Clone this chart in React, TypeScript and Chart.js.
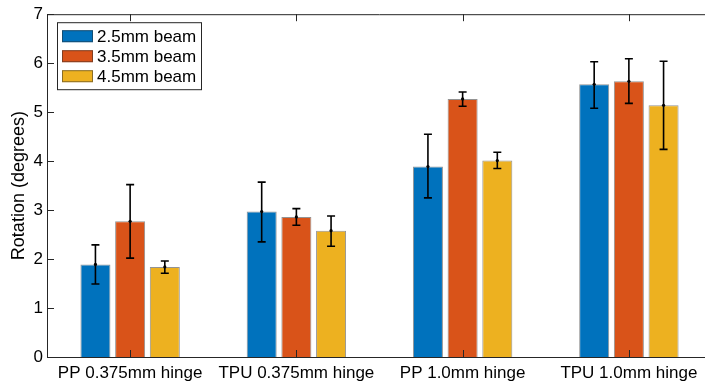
import React, { useEffect, useRef } from "react";
import { Chart, registerables } from "chart.js";

Chart.register(...registerables);

const categories = ["PP 0.375mm hinge", "TPU 0.375mm hinge", "PP 1.0mm hinge", "TPU 1.0mm hinge"];
const seriesLabels = ["2.5mm beam", "3.5mm beam", "4.5mm beam"];
const beam25 = [1.89, 2.97, 3.89, 5.57];
const beam35 = [2.77, 2.86, 5.27, 5.63];
const beam45 = [1.84, 2.58, 4.01, 5.14];
const beam25Low = [1.49, 2.35, 3.25, 5.08];
const beam25High = [2.29, 3.57, 4.55, 6.03];
const beam35Low = [2.02, 2.69, 5.12, 5.18];
const beam35High = [3.52, 3.03, 5.41, 6.09];
const beam45Low = [1.71, 2.26, 3.85, 4.24];
const beam45High = [1.96, 2.88, 4.18, 6.04];
const yTicks = [0, 1, 2, 3, 4, 5, 6, 7];

const colors = ["#0072BD", "#D95319", "#EDB120"];
const AXIS = "#262626";
const FONT = "'Liberation Sans', Arial, Helvetica, sans-serif";

const lows = [beam25Low, beam35Low, beam45Low];
const highs = [beam25High, beam35High, beam45High];

const decorPlugin = {
  id: "decor",
  afterDatasetsDraw(chart: any) {
    const ctx = chart.ctx;
    const y = chart.scales.y;
    ctx.save();
    ctx.strokeStyle = "#000";
    ctx.fillStyle = "#000";
    ctx.lineWidth = 1.6;
    chart.data.datasets.forEach((ds: any, di: number) => {
      const meta = chart.getDatasetMeta(di);
      meta.data.forEach((el: any, i: number) => {
        const x = el.x;
        const yl = y.getPixelForValue(lows[di][i]);
        const yh = y.getPixelForValue(highs[di][i]);
        const ym = y.getPixelForValue(ds.data[i]);
        ctx.beginPath();
        ctx.moveTo(x, yl);
        ctx.lineTo(x, yh);
        ctx.moveTo(x - 4, yl);
        ctx.lineTo(x + 4, yl);
        ctx.moveTo(x - 4, yh);
        ctx.lineTo(x + 4, yh);
        ctx.stroke();
        ctx.beginPath();
        ctx.arc(x, ym, 1.6, 0, Math.PI * 2);
        ctx.fill();
      });
    });
    ctx.restore();
  },
  afterDraw(chart: any) {
    const ctx = chart.ctx;
    const { left, right, top, bottom } = chart.chartArea;
    const xs = chart.scales.x;
    const ys = chart.scales.y;
    ctx.save();
    ctx.strokeStyle = AXIS;
    ctx.lineWidth = 1;
    ctx.beginPath();
    ctx.moveTo(left, top + 0.5);
    ctx.lineTo(right, top + 0.5);
    ctx.moveTo(right - 0.5, top);
    ctx.lineTo(right - 0.5, bottom);
    ctx.stroke();
    const tl = 7;
    ctx.beginPath();
    ys.ticks.forEach((t: any, i: number) => {
      const py = Math.round(ys.getPixelForTick(i)) + 0.5;
      ctx.moveTo(left, py);
      ctx.lineTo(left + tl, py);
      ctx.moveTo(right, py);
      ctx.lineTo(right - tl, py);
    });
    xs.ticks.forEach((t: any, i: number) => {
      const px = Math.round(xs.getPixelForTick(i)) + 0.5;
      ctx.moveTo(px, bottom);
      ctx.lineTo(px, bottom - tl);
      ctx.moveTo(px, top);
      ctx.lineTo(px, top + tl);
    });
    ctx.stroke();

    const lx = left + 10;
    const ly = top + 8;
    const lw = 144;
    const lh = 67;
    ctx.fillStyle = "#fff";
    ctx.fillRect(lx, ly, lw, lh);
    ctx.strokeRect(lx + 0.5, ly + 0.5, lw, lh);
    ctx.font = `17px ${FONT}`;
    ctx.textBaseline = "middle";
    chart.data.datasets.forEach((ds: any, i: number) => {
      const cy = ly + 14 + i * 20;
      ctx.fillStyle = ds.backgroundColor;
      ctx.fillRect(lx + 5, cy - 6, 31, 12);
      ctx.strokeStyle = "rgba(40,40,40,0.5)";
      ctx.strokeRect(lx + 5.5, cy - 5.5, 30, 11);
      ctx.fillStyle = "#000";
      ctx.fillText(ds.label, lx + 40, cy + 1);
    });
    ctx.restore();
  },
};

export default function App() {
  const ref = useRef<HTMLCanvasElement | null>(null);
  useEffect(() => {
    if (!ref.current) return;
    const vals = [beam25, beam35, beam45];
    const chart = new Chart(ref.current, {
      type: "bar",
      data: {
        labels: categories,
        datasets: seriesLabels.map((label, i) => ({
          label,
          data: vals[i],
          backgroundColor: colors[i],
          borderColor: "rgba(40,40,40,0.5)",
          borderWidth: 1,
          categoryPercentage: 0.626,
          barPercentage: 0.865,
        })),
      },
      options: {
        animation: false,
        responsive: false,
        devicePixelRatio: 1,
        layout: { padding: { top: 10, left: 0, right: 2, bottom: 0 } },
        plugins: { legend: { display: false }, tooltip: { enabled: false } },
        scales: {
          x: {
            grid: { display: false, drawTicks: false },
            border: { display: true, color: AXIS, width: 1 },
            ticks: { color: "#000", font: { size: 17, family: FONT }, padding: 6, maxRotation: 0, autoSkip: false },
            afterFit: (s: any) => { s.height = 30; },
          },
          y: {
            min: 0,
            max: 7,
            grid: { display: false, drawTicks: false },
            border: { display: true, color: AXIS, width: 1 },
            afterBuildTicks: (s: any) => { s.ticks = yTicks.map((v) => ({ value: v })); },
            ticks: { color: "#000", font: { size: 17, family: FONT }, padding: 4 },
            title: { display: true, text: "Rotation (degrees)", color: "#000", font: { size: 18, family: FONT }, padding: { top: 8, bottom: 0 } },
            afterFit: (s: any) => { s.width = 47; },
          },
        },
      },
      plugins: [decorPlugin],
    });
    return () => chart.destroy();
  }, []);
  return (
    <div style={{ position: "fixed", left: 0, top: 0, width: 705, height: 387, overflow: "hidden", background: "#fff" }}>
      <canvas ref={ref} width={714} height={387} style={{ display: "block", width: 714, height: 387 }} />
    </div>
  );
}
